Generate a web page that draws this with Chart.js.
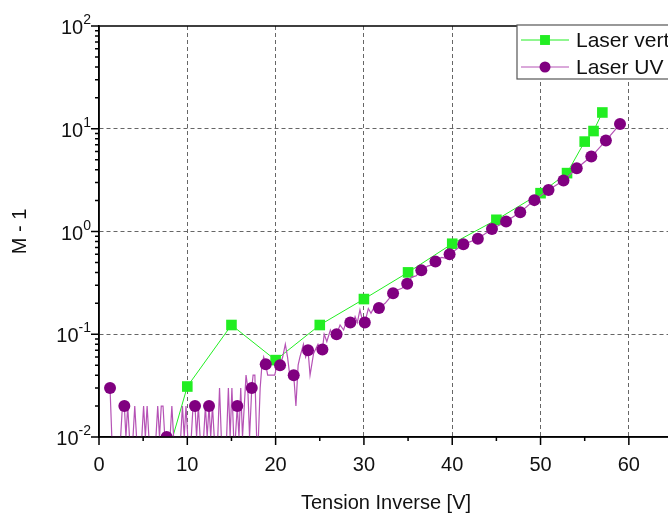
<!DOCTYPE html>
<html>
<head>
    <title>M - 1 vs Tension Inverse</title>
    <meta charset="UTF-8" />
    <script src="https://cdn.jsdelivr.net/npm/chart.js"></script>
    <style>
        * { margin: 0; padding: 0; box-sizing: border-box; }
        body { background: #fff; overflow: hidden; width: 668px; height: 513px; }
        .chart-box { width: 700px; height: 513px; }
    </style>
</head>
<body>

<div class="chart-box">
    <canvas id="gainChart" width="700" height="513"></canvas>
</div>

<script>
    // Laser vert (green squares)
    const greenX = [5, 10, 15, 20, 25, 30, 35, 40, 45, 50, 53, 55, 56, 57];
    const greenY = [0.001, 0.031, 0.123, 0.056, 0.123, 0.22, 0.40, 0.76, 1.30, 2.36, 3.70, 7.5, 9.5, 14.4];

    // Laser UV markers (every 8th sample of the measurement)
    const uvMarkX = [1.25, 2.87, 7.66, 10.87, 12.46, 15.66, 17.3, 18.88, 20.5, 22.05, 23.67, 25.3, 26.9, 28.46,
        30.1, 31.7, 33.3, 34.9, 36.5, 38.1, 39.7, 41.26, 42.9, 44.5, 46.1, 47.7, 49.3, 50.9, 52.6, 54.1, 55.75, 57.4, 59.0];
    const uvMarkY = [0.03, 0.02, 0.01, 0.02, 0.02, 0.02, 0.03, 0.051, 0.05, 0.04, 0.07, 0.071, 0.1, 0.13,
        0.13, 0.18, 0.25, 0.31, 0.42, 0.51, 0.6, 0.75, 0.85, 1.06, 1.25, 1.54, 2.02, 2.54, 3.13, 4.13, 5.36, 7.67, 11.1];

    // Laser UV raw trace (noisy at low voltage)
    const uvLineX = [1.25, 1.45, 2.45, 2.65, 2.87, 3.05, 3.25, 3.45, 3.85, 4.05, 4.25, 4.85, 5.05, 5.25, 5.45, 5.65,
        6.45, 6.65, 6.85, 7.05, 7.25, 7.45, 7.66, 8.05, 8.25, 8.45, 9.25, 9.45, 9.65, 9.85, 10.05, 10.45, 10.65, 10.87,
        11.05, 11.25, 11.45, 11.85, 12.05, 12.25, 12.46, 12.65, 12.85, 13.05, 13.45, 13.65, 13.85, 14.45, 14.65, 14.85,
        15.05, 15.25, 15.45, 15.66, 15.85, 16.05, 16.25, 16.45, 16.65, 16.85, 17.05, 17.3, 17.45, 17.65, 17.85, 18.05,
        18.25, 18.45, 18.65, 18.88, 19.1, 19.9, 20.15, 20.5, 20.8, 21.1, 21.35, 21.6, 22.05, 22.3, 22.55, 22.75, 23.15,
        23.4, 23.67, 23.9, 24.3, 24.8, 25.05, 25.3, 25.5, 25.8, 26.2, 26.5, 26.9, 27.3, 27.7, 28.05, 28.46, 28.7, 29.0,
        29.25, 29.55, 29.8, 30.1, 30.5, 30.8, 31.25, 31.7, 32.4, 32.8, 33.3, 33.8, 34.3, 34.9, 35.4, 35.9, 36.5, 37.2,
        37.6, 38.1, 38.8, 39.2, 39.7, 41.26, 42.9, 44.5, 46.1, 47.7, 49.3, 50.9, 52.6, 54.1, 55.75, 57.4, 59.0];
    const uvLineY = [0.03, 0.01, 0.01, 0.02, 0.02, 0.01, 0.02, 0.01, 0.01, 0.02, 0.01, 0.01, 0.02, 0.01, 0.02, 0.01,
        0.01, 0.02, 0.01, 0.02, 0.02, 0.01, 0.01, 0.01, 0.02, 0.01, 0.01, 0.02, 0.01, 0.02, 0.01, 0.01, 0.02, 0.02,
        0.01, 0.02, 0.01, 0.01, 0.02, 0.01, 0.02, 0.01, 0.02, 0.01, 0.01, 0.03, 0.01, 0.01, 0.03, 0.01,
        0.03, 0.01, 0.01, 0.02, 0.01, 0.03, 0.01, 0.02, 0.04, 0.03, 0.01, 0.03, 0.04, 0.04, 0.01, 0.01,
        0.03, 0.05, 0.06, 0.051, 0.04, 0.04, 0.05, 0.05, 0.06, 0.08, 0.06, 0.04, 0.04, 0.02, 0.05, 0.06, 0.08,
        0.06, 0.07, 0.04, 0.065, 0.08, 0.07, 0.071, 0.1, 0.085, 0.11, 0.095, 0.1, 0.123, 0.11, 0.138, 0.13, 0.12, 0.148,
        0.13, 0.173, 0.14, 0.13, 0.178, 0.16, 0.19, 0.18, 0.2, 0.22, 0.25, 0.27, 0.28, 0.31, 0.36, 0.37, 0.42, 0.46,
        0.47, 0.51, 0.56, 0.55, 0.6, 0.75, 0.85, 1.06, 1.25, 1.54, 2.02, 2.54, 3.13, 4.13, 5.36, 7.67, 11.1];

    // axes
    const xTickLabels = [0, 10, 20, 30, 40, 50, 60];
    const xMinorTicks = [5, 15, 25, 35, 45, 55, 65];
    const yDecades = [0.01, 0.1, 1, 10, 100];
    const yExponents = ['-2', '-1', '0', '1', '2'];
    const yMinorSteps = [2, 3, 4, 5, 6, 7, 8, 9];

    const FONT = "'Liberation Sans', Arial, sans-serif";
    const GREEN = '#22ee22';
    const PURPLE = '#800080';
    const PURPLE_LINE = '#b552b5';

    const toPoints = (xs, ys) => xs.map((x, i) => ({x: x, y: ys[i]}));

    // frame, tick marks and 10^n labels like Origin
    const axisDecor = {
        id: 'axisDecor',
        afterDatasetsDraw(chart) {
            const {ctx, chartArea: a, scales: {x, y}} = chart;
            ctx.save();
            ctx.strokeStyle = '#000';
            ctx.lineWidth = 1.5;
            ctx.strokeRect(a.left, a.top, a.right - a.left, a.bottom - a.top);

            ctx.beginPath();
            xTickLabels.forEach(v => {
                const px = x.getPixelForValue(v);
                ctx.moveTo(px, a.bottom);
                ctx.lineTo(px, a.bottom + 8);
            });
            xMinorTicks.forEach(v => {
                const px = x.getPixelForValue(v);
                ctx.moveTo(px, a.bottom);
                ctx.lineTo(px, a.bottom + 4);
            });
            yDecades.forEach((d, i) => {
                const py = y.getPixelForValue(d);
                ctx.moveTo(a.left - 8, py);
                ctx.lineTo(a.left, py);
                if (i === yDecades.length - 1) return;
                yMinorSteps.forEach(m => {
                    const pm = y.getPixelForValue(d * m);
                    ctx.moveTo(a.left - 4, pm);
                    ctx.lineTo(a.left, pm);
                });
            });
            ctx.stroke();

            // y labels: "10" with raised exponent
            ctx.fillStyle = '#111';
            ctx.textBaseline = 'alphabetic';
            yDecades.forEach((d, i) => {
                const py = y.getPixelForValue(d);
                const exp = yExponents[i];
                ctx.font = '14px ' + FONT;
                const ew = ctx.measureText(exp).width;
                const right = a.left - 8;
                ctx.textAlign = 'left';
                ctx.fillText(exp, right - ew, py - 2);
                ctx.font = '20px ' + FONT;
                ctx.textAlign = 'right';
                ctx.fillText('10', right - ew, py + 8);
            });
            ctx.restore();
        }
    };

    // legend box in the upper right corner
    const cornerLegend = {
        id: 'cornerLegend',
        afterDraw(chart) {
            const ctx = chart.ctx;
            const left = 517, top = 25, bottom = 79;
            ctx.save();
            ctx.fillStyle = '#fff';
            ctx.fillRect(left, top, 200, bottom - top);
            ctx.strokeStyle = '#555';
            ctx.lineWidth = 1.2;
            ctx.strokeRect(left, top, 200, bottom - top);

            const rows = [
                {y: 40, line: GREEN, fill: GREEN, style: 'rect', r: 7, text: 'Laser vert'},
                {y: 67, line: PURPLE_LINE, fill: PURPLE, style: 'circle', r: 5.5, text: 'Laser UV'}
            ];
            rows.forEach(row => {
                ctx.strokeStyle = row.line;
                ctx.lineWidth = 1;
                ctx.beginPath();
                ctx.moveTo(521, row.y);
                ctx.lineTo(569, row.y);
                ctx.stroke();
                ctx.fillStyle = row.fill;
                Chart.helpers.drawPoint(ctx, {pointStyle: row.style, radius: row.r, borderWidth: 0}, 545, row.y);
                ctx.fillStyle = '#111';
                ctx.font = '21px ' + FONT;
                ctx.textAlign = 'left';
                ctx.textBaseline = 'middle';
                ctx.fillText(row.text, 576, row.y + 1);
            });
            ctx.restore();
        }
    };

    const ctx = document.getElementById('gainChart').getContext('2d');
    const gainChart = new Chart(ctx, {
        type: 'line',
        data: {
            datasets: [
                {
                    label: 'Laser vert',
                    data: toPoints(greenX, greenY),
                    borderColor: GREEN,
                    borderWidth: 1,
                    backgroundColor: GREEN,
                    pointStyle: 'rect',
                    pointRadius: 7.5,
                    pointBorderWidth: 0,
                    clip: 0,
                    order: 3
                },
                {
                    label: 'Laser UV trace',
                    data: toPoints(uvLineX, uvLineY),
                    borderColor: PURPLE_LINE,
                    borderWidth: 1.2,
                    pointRadius: 0,
                    clip: 0,
                    order: 2
                },
                {
                    label: 'Laser UV',
                    data: toPoints(uvMarkX, uvMarkY),
                    showLine: false,
                    backgroundColor: PURPLE,
                    pointStyle: 'circle',
                    pointRadius: 6,
                    pointBorderWidth: 0,
                    clip: 0,
                    order: 1
                }
            ]
        },
        options: {
            responsive: false,
            animation: false,
            devicePixelRatio: 1,
            events: [],
            layout: { padding: { left: 0, top: 26, right: 27, bottom: 0 } },
            plugins: {
                legend: { display: false },
                tooltip: { enabled: false }
            },
            scales: {
                x: {
                    type: 'linear',
                    min: 0,
                    max: 65,
                    afterBuildTicks: s => { s.ticks = xTickLabels.map(v => ({value: v})); },
                    afterFit: s => { s.height = 76; },
                    grid: {
                        color: c => (c.tick && c.tick.value > 0) ? '#666' : 'rgba(0,0,0,0)',
                        lineWidth: 1,
                        drawTicks: false
                    },
                    border: { color: '#000', width: 1.5, dash: [4, 3] },
                    ticks: {
                        color: '#111',
                        padding: 16,
                        maxRotation: 0,
                        font: { family: FONT, size: 20 }
                    },
                    title: {
                        display: true,
                        text: 'Tension Inverse [V]',
                        color: '#111',
                        padding: { top: 0, bottom: 0 },
                        font: { family: FONT, size: 20, lineHeight: 1 }
                    }
                },
                y: {
                    type: 'logarithmic',
                    min: 0.01,
                    max: 100,
                    afterBuildTicks: s => { s.ticks = yDecades.map(v => ({value: v})); },
                    afterFit: s => { s.width = 99; },
                    grid: {
                        color: c => (c.tick && c.tick.value > 0.01 && c.tick.value < 100) ? '#666' : 'rgba(0,0,0,0)',
                        lineWidth: 1,
                        drawTicks: false
                    },
                    border: { color: '#000', width: 1.5, dash: [4, 3] },
                    ticks: { display: false },
                    title: {
                        display: true,
                        text: 'M - 1',
                        color: '#111',
                        padding: { top: 8, bottom: 0 },
                        font: { family: FONT, size: 20 }
                    }
                }
            }
        },
        plugins: [axisDecor, cornerLegend]
    });
</script>

</body>
</html>
